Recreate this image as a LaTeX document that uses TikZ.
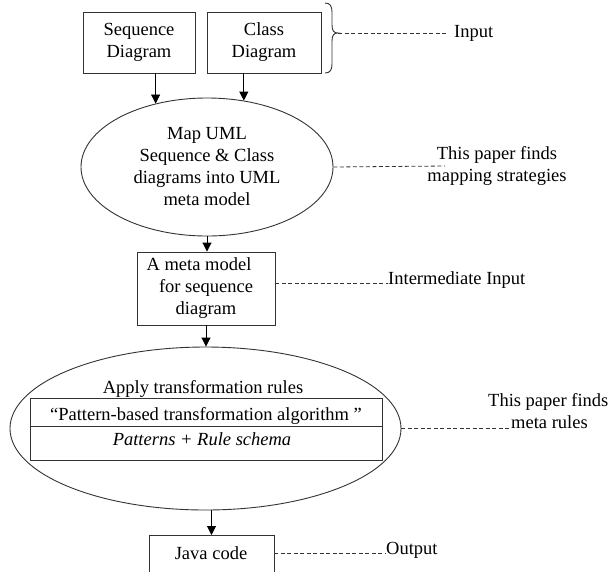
\documentclass[tikz,border=0pt]{standalone}
\usepackage{fontspec}
\setmainfont{Liberation Serif}
\usetikzlibrary{shapes.geometric,arrows.meta,calc}
\begin{document}
\begin{tikzpicture}[x=1pt,y=-1pt,
  every node/.style={font=\fontsize{18.5}{22}\selectfont, inner sep=0pt},
  box/.style={draw=black!80, line width=0.9pt, rectangle},
  oval/.style={draw=black!80, line width=0.9pt, ellipse},
  arr/.style={-{Triangle[length=9pt,width=9pt]}, line width=0.9pt},
  dashline/.style={dash pattern=on 4pt off 2.5pt, line width=0.8pt, black!80},
  lbl/.style={anchor=west}
]
\useasboundingbox (0,0) rectangle (609,571);

% top boxes
\node[box, minimum width=112pt, minimum height=61pt, align=center] (seq) at (139,42.5) {Sequence\\Diagram};
\node[box, minimum width=114pt, minimum height=61pt, align=center] (cls) at (264,42.5) {Class\\Diagram};

% brace
\draw[line width=0.9pt, black!80] (325,3) .. controls (330,3) and (332,6) .. (332,12) -- (332,25)
  .. controls (332,31) and (334,33) .. (338,33) .. controls (334,33) and (332,35) .. (332,41)
  -- (332,64) .. controls (332,70) and (330,73) .. (325,73);
\coordinate (bt) at (338,33);
\node[lbl] (inp) at (454,33) {Input};
\draw[dashline] (bt) -- (448,33);

% ellipse 1
\node[oval, minimum width=252pt, minimum height=138pt, align=center] (map) at (207,167)
  {Map UML\\Sequence \& Class\\diagrams into UML\\meta model};
\draw[arr] (seq.south -| map.129) -- (map.129);
\draw[arr] (cls.south -| map.61) -- (map.61);
\node[align=center] (lab1) at (497,166) {This paper finds\\mapping strategies};
\coordinate (d1) at (445,166);
\draw[dashline] (map.east) -- (d1);

% meta model box
\node[box, minimum width=138pt, minimum height=73pt, align=center] (meta) at (206,288.5)
  {A meta model\hbox to 14pt{}\\for sequence\\diagram};
\draw[arr] (map.south) -- (map.south |- meta.north);
\node[lbl] (interm) at (388,280) {Intermediate Input};
\coordinate (m1) at (275,283);
\draw[dashline] (m1) -- (interm.west |- m1);

% ellipse 2
\node[oval, minimum width=391pt, minimum height=163pt] (apply) at (205.5,428.5) {};
\draw[arr] (meta.south) -- (meta.south |- apply.north);
\node (applyt) at (203,389) {Apply transformation rules};
\node[box, minimum width=352pt, minimum height=62pt] (rules) at (206,429) {};
\draw[black!80, line width=0.9pt] ($(rules.north west)+(0,29)$) -- ($(rules.north east)+(0,29)$);
\node (pat) at (206,416) {“Pattern-based transformation algorithm ”};
\node[font=\fontsize{18.5}{22}\selectfont\itshape] (pr) at (202,439) {Patterns + Rule schema};
\node[anchor=base west] (lab3a) at (488,406) {This paper finds};
\node[anchor=base west] (lab3b) at (511,428) {meta rules};
\draw[dashline] (apply.east) -- (apply.east -| lab3b.west);

% java box
\node[box, minimum width=125pt, minimum height=50pt, anchor=north] (java) at (211.5,535) {};
\node (javat) at (211,553) {Java code};
\draw[arr] (apply.south -| java.north) -- (java.north);
\node[lbl] (outl) at (386,550) {Output};
\draw[dashline] (javat -| java.east) -- (javat -| outl.west);
\end{tikzpicture}
\end{document}
